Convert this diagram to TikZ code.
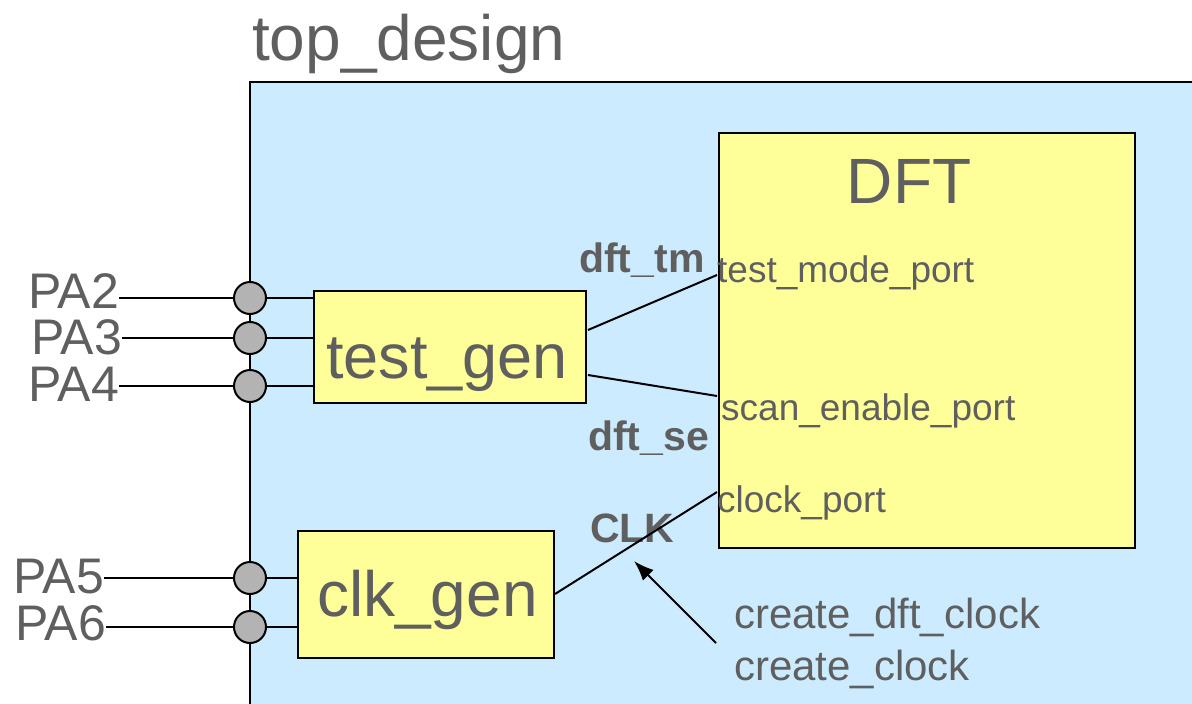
\documentclass[tikz,border=0pt]{standalone}
\usepackage{fontspec}
\setmainfont{Liberation Sans}
\usetikzlibrary{arrows.meta}
\definecolor{designblue}{HTML}{CCEBFF}
\definecolor{blockyellow}{HTML}{FFFF99}
\definecolor{pingray}{HTML}{B3B3B3}
\definecolor{labelgray}{HTML}{5F5F5F}
\newcommand{\fs}[1]{\fontsize{#1}{#1}\selectfont}
\tikzset{
  wire/.style={line width=2pt, black},
  block/.style={draw=black, line width=2pt, fill=blockyellow, inner sep=0pt},
  pin/.style={circle, draw=black, line width=2pt, fill=pingray, minimum size=32pt, inner sep=0pt},
  txt/.style={text=labelgray, inner sep=0pt, anchor=base west},
  pinlabel/.style={txt, font=\fs{50}, text height=36pt, text depth=0pt},
  portlabel/.style={txt, font=\fs{37}},
  netlabel/.style={txt, font=\fs{41}\bfseries},
  cmdlabel/.style={txt, font=\fs{42}},
}
\begin{document}
\begin{tikzpicture}[x=1pt, y=-1pt]
\useasboundingbox (0,0) rectangle (1192,704);

% design boundary
\fill[designblue] (250,82) rectangle (1192,704);
\draw[line width=2pt] (250,704) -- (250,82) -- (1192,82);
\node[txt, font=\fs{64}] (title) at (252,60) {top\_design};

% DFT block and its ports
\node[block, minimum width=416pt, minimum height=415pt] (dft) at (927,340.5) {};
\node[txt, anchor=base, font=\fs{64}] (dftname) at (909,203) {DFT};
\node[portlabel] (tmport) at (717,282) {test\_mode\_port};
\node[portlabel] (seport) at (721,420) {scan\_enable\_port};
\node[portlabel] (ckport) at (717,512) {clock\_port};
\coordinate (tmin) at (717,275);
\coordinate (sein) at (717,396);
\coordinate (ckin) at (717,492);

% generator blocks
\node[block, minimum width=272pt, minimum height=112pt] (tg) at (450,347) {};
\node[txt, font=\fs{63}] (tgname) at (326,378) {test\_gen};
\node[block, minimum width=256pt, minimum height=127pt] (cg) at (426,594.5) {};
\node[txt, font=\fs{64}] (cgname) at (317,616) {clk\_gen};

% package pins
\node[pin] (p2) at (250,298) {};
\node[pin] (p3) at (250,338) {};
\node[pin] (p4) at (250,386) {};
\node[pin] (p5) at (250,578) {};
\node[pin] (p6) at (250,627) {};
\node[pinlabel] (l2) at (28,308) {PA2};
\node[pinlabel] (l3) at (31,354) {PA3};
\node[pinlabel] (l4) at (28,401) {PA4};
\node[pinlabel] (l5) at (13,593) {PA5};
\node[pinlabel] (l6) at (15,640) {PA6};

\foreach \i/\b in {2/tg,3/tg,4/tg,5/cg,6/cg}{
  \draw[wire] (l\i.east |- p\i) -- (p\i.west);
  \draw[wire] (p\i.east) -- (p\i -| \b.west);
}

% internal nets
\coordinate (tmout) at (588,330);
\coordinate (seout) at (588,375);
\coordinate (ckout) at (555,594);
\node[netlabel] (ntm) at (579,272) {dft\_tm};
\node[netlabel] (nse) at (588,450) {dft\_se};
\node[netlabel] (nck) at (590,542) {CLK};
\draw[wire] (tmout) -- (tmin);
\draw[wire] (seout) -- (sein);
\draw[wire] (ckout) -- (ckin);

% clock definition commands
\node[cmdlabel] (c1) at (734,628) {create\_dft\_clock};
\node[cmdlabel] (c2) at (734,680) {create\_clock};
\coordinate (atail) at (716,643);
\coordinate (ahead) at (634,561);
\draw[wire, -{Latex[length=20pt, width=15pt]}] (atail) -- (ahead);
\end{tikzpicture}
\end{document}
